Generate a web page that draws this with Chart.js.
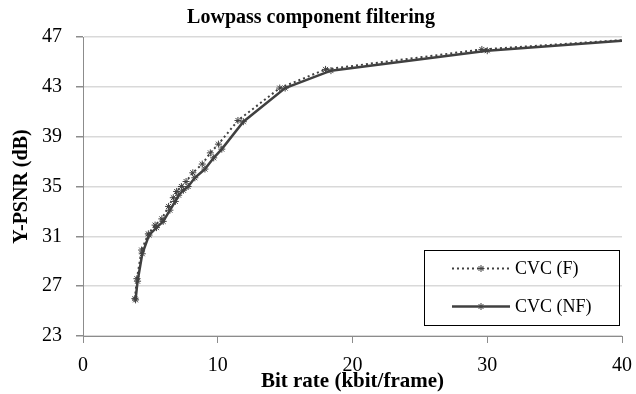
<!DOCTYPE html>
<html>
<head>
<meta charset="utf-8">
<script src="https://cdn.jsdelivr.net/npm/chart.js@4"></script>
<style>
	html, body { margin: 0; padding: 0; background: #fff; }
	#wrap { width: 636px; height: 394px; }
</style>
</head>
<body>
<div id="wrap"><canvas id="psnr"></canvas></div>
<script>
// Data
const seriesNames = ['CVC (F)', 'CVC (NF)'];
const rateF = [3.85, 4.0, 4.35, 4.85, 5.35, 5.85, 6.35, 6.7, 6.95, 7.3, 7.65, 8.15, 8.85, 9.45, 10.05, 11.5, 14.6, 18.0, 29.6, 40.0];
const psnrF = [26.0, 27.6, 29.9, 31.2, 31.9, 32.4, 33.4, 34.1, 34.6, 35.0, 35.4, 36.1, 36.8, 37.7, 38.4, 40.3, 42.9, 44.4, 46.0, 46.75];
const rateNF = [3.9, 4.05, 4.4, 4.9, 5.45, 5.95, 6.45, 6.85, 7.1, 7.45, 7.8, 8.3, 9.05, 9.7, 10.3, 11.9, 15.0, 18.4, 30.0, 40.0];
const psnrNF = [25.9, 27.4, 29.6, 31.1, 31.7, 32.2, 33.1, 33.8, 34.3, 34.7, 35.0, 35.7, 36.4, 37.3, 38.0, 40.2, 42.9, 44.3, 45.9, 46.7];
const xTicks = [0, 10, 20, 30, 40];
const yTicks = [23, 27, 31, 35, 39, 43, 47];

const serif = "'Liberation Serif', 'Times New Roman', serif";
const lineColor = '#404040';

function toPoints(xs, ys) {
	return xs.map((x, i) => ({ x: x, y: ys[i] }));
}

// no marker on the last point, the line just runs off the right edge
function markerSize(ctx) {
	return ctx.dataIndex === ctx.dataset.data.length - 1 ? 0 : 3.5;
}

// Legend drawn as a boxed key in the lower right of the plot
const boxLegend = {
	id: 'boxLegend',
	afterDraw(chart) {
		const c = chart.ctx;
		const box = { x: 424.5, y: 250.5, w: 195, h: 75 };
		c.save();
		c.strokeStyle = '#000';
		c.lineWidth = 1;
		c.strokeRect(box.x, box.y, box.w, box.h);
		c.font = '18px ' + serif;
		c.textBaseline = 'middle';
		chart.data.datasets.forEach((ds, i) => {
			const y = box.y + 18 + i * 38;
			c.strokeStyle = ds.borderColor;
			c.lineWidth = ds.borderWidth;
			c.setLineDash(ds.borderDash || []);
			c.beginPath();
			c.moveTo(452, y);
			c.lineTo(510, y);
			c.stroke();
			c.setLineDash([]);
			c.lineWidth = 1;
			// star marker in the middle of the sample line
			const r = 3.5;
			c.beginPath();
			c.moveTo(481 - r, y); c.lineTo(481 + r, y);
			c.moveTo(481, y - r); c.lineTo(481, y + r);
			c.moveTo(481 - r * 0.7, y - r * 0.7); c.lineTo(481 + r * 0.7, y + r * 0.7);
			c.moveTo(481 - r * 0.7, y + r * 0.7); c.lineTo(481 + r * 0.7, y - r * 0.7);
			c.stroke();
			c.fillStyle = '#000';
			c.fillText(ds.label, 515, y + 1);
		});
		c.restore();
	},
};

let ctx = document.getElementById('psnr').getContext('2d');
let psnrChart = new Chart(ctx, {
	type: 'line',
	data: {
		datasets: [
			{
				label: seriesNames[0],
				data: toPoints(rateF, psnrF),
				borderColor: lineColor,
				backgroundColor: lineColor,
				borderWidth: 2,
				borderDash: [2, 3],
				pointStyle: 'star',
				pointRadius: markerSize,
				pointBorderColor: lineColor,
				pointBorderWidth: 1,
				fill: false,
				tension: 0,
			},
			{
				label: seriesNames[1],
				data: toPoints(rateNF, psnrNF),
				borderColor: lineColor,
				backgroundColor: lineColor,
				borderWidth: 2.5,
				pointStyle: 'star',
				pointRadius: markerSize,
				pointBorderColor: lineColor,
				pointBorderWidth: 1,
				fill: false,
				tension: 0,
			},
		],
	},
	options: {
		responsive: true,
		maintainAspectRatio: false,
		animation: false,
		layout: { padding: { left: 0, right: 14, top: 0, bottom: 0 } },
		plugins: {
			legend: { display: false },
			tooltip: { enabled: false },
			title: {
				display: true,
				text: 'Lowpass component filtering',
				color: '#000',
				font: { family: serif, size: 20, weight: 'bold' },
				padding: { top: 6, bottom: 7 },
			},
		},
		scales: {
			x: {
				type: 'linear',
				min: 0,
				max: 40,
				afterBuildTicks: (axis) => {
					axis.ticks = xTicks.map((v) => ({ value: v }));
				},
				afterFit: (axis) => {
					axis.height = 58;
					// let the "40" label hang over the edge like in the original
					axis.paddingLeft = 0;
					axis.paddingRight = 0;
				},
				border: { color: '#8c8c8c', width: 1 },
				grid: {
					drawOnChartArea: false,
					drawTicks: true,
					tickLength: 7,
					tickColor: '#8c8c8c',
				},
				ticks: {
					color: '#000',
					font: { family: serif, size: 20 },
					padding: 11,
					maxRotation: 0,
				},
				title: {
					display: true,
					text: 'Bit rate (kbit/frame)',
					color: '#000',
					font: { family: serif, size: 21, weight: 'bold' },
					padding: { top: 0, bottom: 0 },
				},
			},
			y: {
				type: 'linear',
				min: 23,
				max: 47,
				afterBuildTicks: (axis) => {
					axis.ticks = yTicks.map((v) => ({ value: v }));
				},
				afterFit: (axis) => {
					axis.width = 83;
				},
				border: { color: '#8c8c8c', width: 1 },
				grid: {
					color: '#d9d9d9',
					lineWidth: 1.5,
					drawTicks: true,
					tickLength: 7,
					tickColor: '#8c8c8c',
				},
				ticks: {
					color: '#000',
					font: { family: serif, size: 20 },
					padding: 14,
				},
				title: {
					display: true,
					text: 'Y-PSNR (dB)',
					color: '#000',
					font: { family: serif, size: 20, weight: 'bold' },
					padding: { top: 10, bottom: 0 },
				},
			},
		},
	},
	plugins: [boxLegend],
});
</script>
</body>
</html>
